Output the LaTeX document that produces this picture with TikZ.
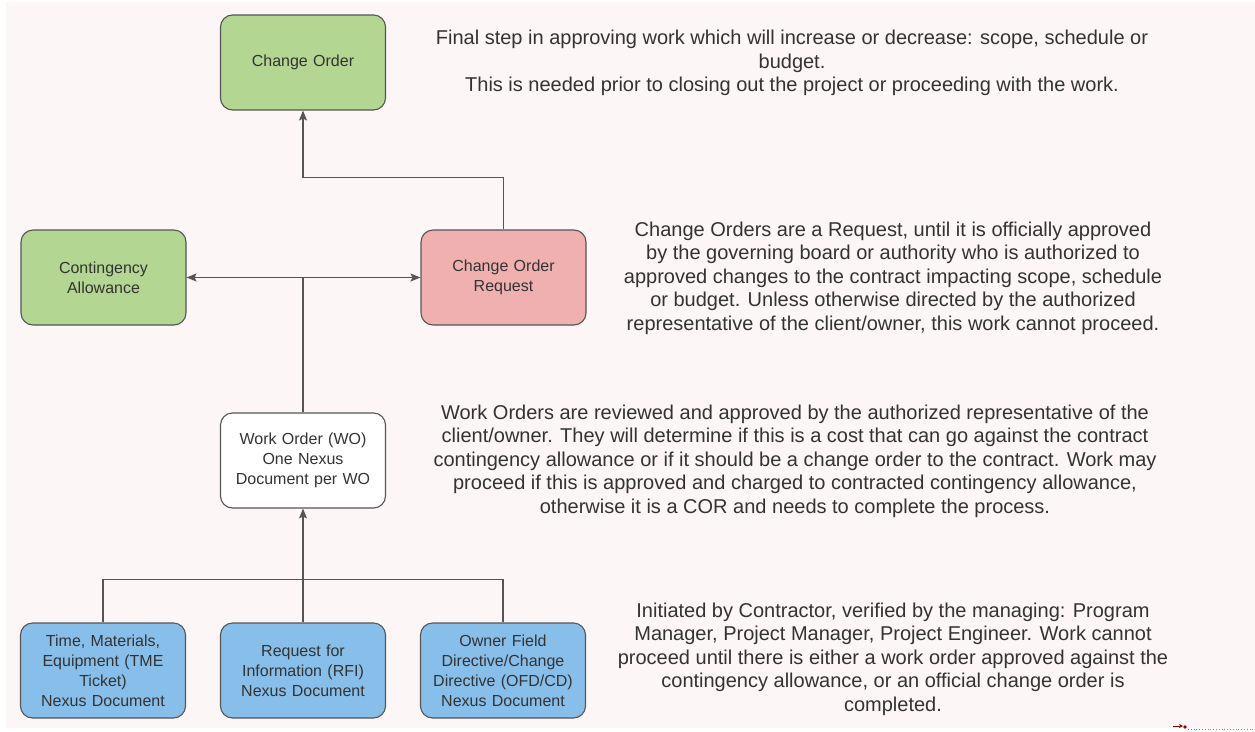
\documentclass[tikz,border=0pt]{standalone}
\usepackage{fontspec}
\setmainfont{Liberation Sans}
\usetikzlibrary{positioning,arrows.meta}

\definecolor{bgpink}{HTML}{FCF6F6}
\definecolor{boxgreen}{HTML}{B3D693}
\definecolor{boxred}{HTML}{F0B0B0}
\definecolor{boxblue}{HTML}{88BEEA}
\definecolor{edgegray}{HTML}{555555}
\definecolor{textgray}{HTML}{333333}

\begin{document}
\begin{tikzpicture}[
    x=1pt, y=-1pt,
    box/.style={rectangle, rounded corners=12pt, draw=edgegray, line width=1.1pt, inner sep=4pt, text width=155pt, align=center, minimum width=165pt, minimum height=95pt, font=\fontsize{16}{20}\selectfont, text=textgray},
    approved/.style={box, fill=boxgreen},
    request/.style={box, fill=boxred},
    workorder/.style={box, fill=white},
    nexusdoc/.style={box, fill=boxblue},
    note/.style={align=center, font=\fontsize{20}{23.5}\selectfont, text=textgray},
    link/.style={draw=edgegray, line width=1.2pt},
    arrowlink/.style={link, -{Stealth[length=10pt, width=8pt, inset=2pt]}}
]
\useasboundingbox (0,0) rectangle (1255,731);
\fill[bgpink] (6,2) rectangle (1255,728);

% Change Order
\node[approved] (co) at (303,62.5) {Change Order};

% Contingency Allowance
\node[approved] (ca) at (103.5,277.5) {Contingency\\Allowance};

% Change Order Request
\node[request] (cor) at (503.5,277.5) {Change Order\\Request};

% Work Order
\node[workorder] (wo) at (303,460.5) {Work Order (WO)\\One Nexus\\Document per WO};

% Nexus Documents
\node[nexusdoc] (tme) at (103,670.5) {Time, Materials,\\Equipment (TME\\Ticket)\\Nexus Document};
\node[nexusdoc] (rfi) at (303,670.5) {Request for\\Information (RFI)\\Nexus Document};
\node[nexusdoc] (ofd) at (503,670.5) {Owner Field\\Directive/Change\\Directive (OFD/CD)\\Nexus Document};

% Notes
\node[note] (finalnote) at (792,63) {Final step in approving work which will increase or decrease: scope, schedule or\\budget.\\This is needed prior to closing out the project or proceeding with the work.};
\node[note] (requestnote) at (893,278) {Change Orders are a Request, until it is officially approved\\by the governing board or authority who is authorized to\\approved changes to the contract impacting scope, schedule\\or budget. Unless otherwise directed by the authorized\\representative of the client/owner, this work cannot proceed.};
\node[note] (wonote) at (795,461) {Work Orders are reviewed and approved by the authorized representative of the\\client/owner. They will determine if this is a cost that can go against the contract\\contingency allowance or if it should be a change order to the contract. Work may\\proceed if this is approved and charged to contracted contingency allowance,\\otherwise it is a COR and needs to complete the process.};
\node[note] (nexusnote) at (893,659) {Initiated by Contractor, verified by the managing: Program\\Manager, Project Manager, Project Engineer. Work cannot\\proceed until there is either a work order approved against the\\contingency allowance, or an official change order is\\completed.};

% Arrows
\draw[arrowlink] (cor.north) -- ++(0,-52) -| (co.south);
\draw[arrowlink] (wo.north) |- (ca.east);
\draw[arrowlink] (wo.north) |- (cor.west);
\draw[link] (tme.north) -- ++(0,-43) -| (ofd.north);
\draw[arrowlink] (rfi.north) -- (wo.south);

% corner mark
\draw[red!60!black, line width=1pt, -{Stealth[length=4pt, width=4pt]}] (1173,726) -- (1183,726);
\fill[red!60!black] (1185,727) circle (1.8);
\draw[gray, dotted, line width=0.8pt] (1188,729) -- (1255,729);

\end{tikzpicture}
\end{document}
